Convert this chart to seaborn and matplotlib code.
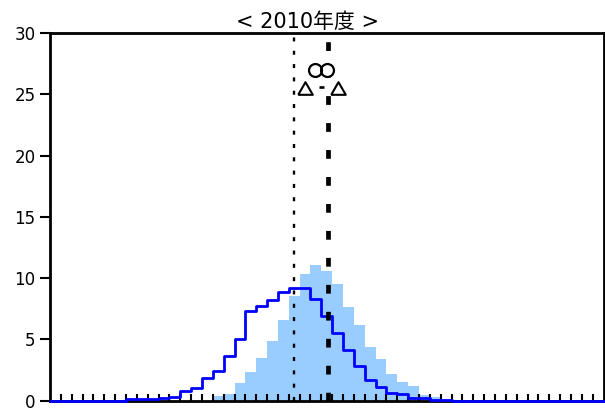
import numpy as np
import pandas as pd
import matplotlib
matplotlib.use("Agg")
import matplotlib.pyplot as plt
import seaborn as sns

sns.set_style("white")
plt.rcParams['font.family'] = ['DejaVu Sans', 'Noto Sans CJK JP']
plt.rcParams['text.color'] = 'black'

# ---- data ----
title = "< 2010年度 >"
n_bins = 51
bin_centers = np.arange(n_bins) + 0.5

# light blue filled histogram
fill_counts = [0]*15 + [0.35, 0.55, 1.45, 2.3, 3.5, 4.9, 6.6, 8.5, 10.35, 11.05,
                        10.6, 9.5, 7.6, 6.2, 4.35, 3.35, 2.2, 1.55, 1.15, 0.45, 0.27] + [0]*15
# blue step histogram
step_counts = [0]*7 + [0.1, 0.1, 0.1, 0.2, 0.3, 0.8, 1.0, 1.8, 2.4, 3.65, 5.05, 7.3, 7.7,
                       8.2, 8.85, 9.2, 9.2, 8.3, 6.9, 5.55, 4.1, 2.8, 1.7, 1.1, 0.63, 0.52,
                       0.19, 0.19, 0.06, 0.06] + [0]*14

dotted_x = 22.48
dashed_x = 25.57
circle_x = [24.45, 25.5]
circle_y = [27.0, 27.0]
triangle_x = [23.54, 26.54]
triangle_y = [25.53, 25.53]
dash_x = [24.97]
dash_y = [25.6]

y_ticks = [0, 5, 10, 15, 20, 25, 30]
x_ticks = list(range(1, 51))

df = pd.DataFrame({"x": bin_centers, "fill": fill_counts, "step": step_counts})

# ---- figure ----
W, H = 605, 408
fig = plt.figure(figsize=(W/100, H/100), dpi=100)
ax = fig.add_axes([50/W, 1 - 400.5/H, 553.5/W, 367.2/H])

sns.histplot(data=df, x="x", weights="fill", binwidth=1, binrange=(0, n_bins),
             element="bars", color="#99ccff", alpha=1, edgecolor="none", linewidth=0, ax=ax)
sns.histplot(data=df, x="x", weights="step", binwidth=1, binrange=(0, n_bins),
             element="step", fill=False, color="#0000ff", linewidth=2.0, ax=ax)
for ln in ax.lines:
    ln.set_clip_on(False)
    ln.set_zorder(3)

ax.axvline(dotted_x, color="black", lw=1.7, linestyle=(0, (1.7, 3.94)), zorder=4)
ax.axvline(dashed_x, color="black", lw=3.4, linestyle=(0, (1.86, 3.85)), zorder=4)

tri = [(-1, -0.866), (1, -0.866), (0, 0.866), (-1, -0.866)]
# white interiors first, then outlines on top
ax.plot(circle_x, circle_y, ls="none", marker="o", ms=9.3, mfc="white", mec="white",
        mew=1.6, zorder=5)
ax.plot(circle_x, circle_y, ls="none", marker="o", ms=9.3, mfc="none", mec="black",
        mew=1.6, zorder=6)
ax.plot(triangle_x, triangle_y, ls="none", marker=tri, ms=10.5, mfc="white", mec="black",
        mew=1.5, zorder=6)
ax.plot(dash_x, dash_y, ls="none", marker="_", ms=3.6, mec="black", mew=1.9, zorder=6)

ax.set_xlim(0, n_bins)
ax.set_ylim(0, 30)
ax.set_xlabel("")
ax.set_ylabel("")
ax.set_yticks(y_ticks)
ax.set_yticklabels([str(v) for v in y_ticks], fontsize=12)
ax.set_xticks(x_ticks)
ax.set_xticklabels([])
ax.tick_params(axis="y", left=True, direction="out", length=7, width=1.5, pad=3.5,
               colors="black", labelcolor="black")
ax.tick_params(axis="x", bottom=True, direction="in", length=5, width=1.5, colors="black")
ax.set_axisbelow(False)
for s in ax.spines.values():
    s.set_visible(True)
    s.set_color("black")
    s.set_linewidth(2.0)

fig.text(307.5/W, 1 - 28.3/H, title, ha="center", va="baseline", fontsize=15,
         color="black")

fig.savefig("out.png", dpi=100)
